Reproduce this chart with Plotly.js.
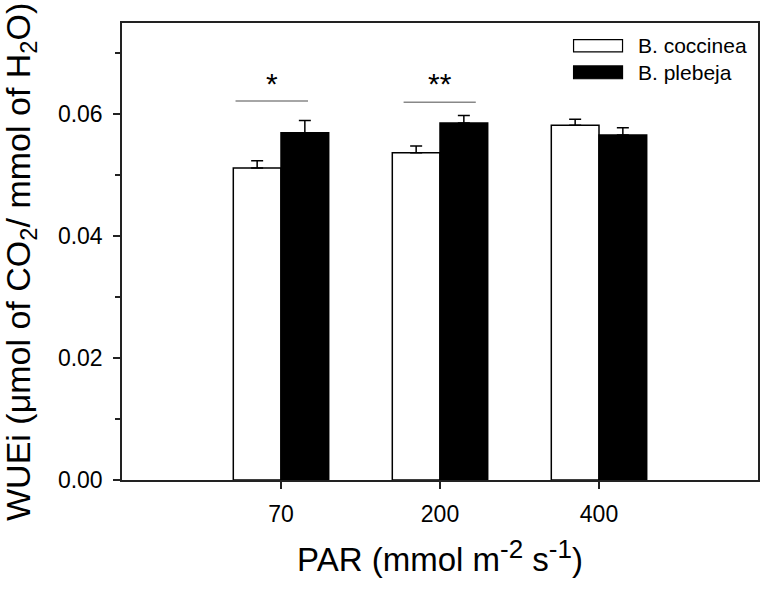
<!DOCTYPE html>
<html>
<head>
<meta charset="utf-8">
<script src="https://cdn.plot.ly/plotly-3.0.1.min.js"></script>
<style>html,body{margin:0;padding:0;background:#fff;}#chart{width:760px;height:591px;}</style>
</head>
<body>
<div id="chart"></div>
<script>
// Data
const categories = ['70', '200', '400'];
const coccinea = [0.0512, 0.0537, 0.0582];
const coccineaErr = [0.0012, 0.0011, 0.0010];
const plebeja = [0.0570, 0.0586, 0.0566];
const plebejaErr = [0.0020, 0.0012, 0.0012];
const seriesNames = ['B. coccinea', 'B. plebeja'];
const yTitle = 'WUEi (μmol of CO<sub>2</sub>/ mmol of H<sub>2</sub>O)';
const xTitle = 'PAR (mmol m<sup><span style="font-size:26px">-2</span></sup> s<sup><span style="font-size:26px">-1</span></sup>)';
// significance marks
const sigCategories = [0, 1];
const sigLabels = ['*', '**'];
const sigLineY = [0.0622, 0.0620];
const sigLineX0 = [-0.286, -0.229];
const sigLineX1 = [0.170, 0.225];
const sigTextY = 0.0650;

const FONT = 'Liberation Sans, Arial, sans-serif';
const AX = '#222';

const traces = [
  {
    type: 'bar', name: seriesNames[0], x: categories, y: coccinea,
    marker: {color: '#ffffff', line: {color: '#000', width: 1.5}},
    error_y: {type: 'data', array: coccineaErr, arrayminus: coccineaErr.map(() => 0), symmetric: false,
              color: '#000', thickness: 1.5, width: 6},
    showlegend: false
  },
  {
    type: 'bar', name: seriesNames[1], x: categories, y: plebeja,
    marker: {color: '#000000', line: {color: '#000', width: 1.5}},
    error_y: {type: 'data', array: plebejaErr, arrayminus: plebejaErr.map(() => 0), symmetric: false,
              color: '#000', thickness: 1.5, width: 6},
    showlegend: false
  }
];

const shapes = [];
const annotations = [];
sigCategories.forEach((c, i) => {
  shapes.push({type: 'line', xref: 'x', yref: 'y', x0: c + sigLineX0[i], x1: c + sigLineX1[i],
               y0: sigLineY[i], y1: sigLineY[i], line: {color: '#888', width: 1.5}});
  annotations.push({xref: 'x', yref: 'y', x: c + (sigLineX0[i] + sigLineX1[i]) / 2, y: sigTextY,
                    text: sigLabels[i], showarrow: false, font: {family: FONT, size: 30, color: '#000'},
                    xanchor: 'center', yanchor: 'middle'});
});
// legend drawn manually (wide rectangular keys)
const legendKeys = [
  {fill: '#ffffff', y0: 0.9366, y1: 0.9637, ty: 0.950},
  {fill: '#000000', y0: 0.878, y1: 0.906, ty: 0.892}
];
legendKeys.forEach((k, i) => {
  shapes.push({type: 'rect', xref: 'paper', yref: 'paper', x0: 0.710, x1: 0.787, y0: k.y0, y1: k.y1,
               fillcolor: k.fill, line: {color: '#000', width: 1.2}});
  annotations.push({xref: 'paper', yref: 'paper', x: 0.808, y: k.ty, text: seriesNames[i], showarrow: false,
                    xanchor: 'left', yanchor: 'middle', font: {family: FONT, size: 21, color: '#000'}});
});
// y-axis title as rotated annotation (positioned like the reference)
annotations.push({xref: 'paper', yref: 'paper', x: 0, xshift: -102, y: 0.477, textangle: -90,
                  text: yTitle, showarrow: false, xanchor: 'center', yanchor: 'middle',
                  font: {family: FONT, size: 34, color: '#000'}});

const layout = {
  width: 760, height: 591,
  margin: {l: 122, r: 2, t: 23, b: 111},
  paper_bgcolor: '#fff', plot_bgcolor: '#fff',
  font: {family: FONT, color: '#000'},
  barmode: 'group', bargap: 0.4, bargroupgap: 0,
  showlegend: false,
  xaxis: {
    type: 'category', range: [-1, 3], showgrid: false, zeroline: false,
    showline: true, linecolor: AX, linewidth: 1.5, mirror: true,
    ticks: 'outside', ticklen: 7, tickwidth: 1.5, tickcolor: AX,
    ticklabelstandoff: 6,
    tickfont: {family: FONT, size: 23, color: '#000'},
    title: {text: xTitle, font: {family: FONT, size: 33, color: '#000'}, standoff: 22}
  },
  yaxis: {
    range: [0, 0.075], dtick: 0.02, tick0: 0, tickformat: '.2f', showgrid: false, zeroline: false,
    showline: true, linecolor: AX, linewidth: 1.5, mirror: true,
    ticks: 'outside', ticklen: 7, tickwidth: 1.5, tickcolor: AX,
    ticklabelstandoff: 6,
    minor: {dtick: 0.01, ticks: 'outside', ticklen: 5, tickwidth: 1.5, tickcolor: AX, showgrid: false},
    tickfont: {family: FONT, size: 23, color: '#000'}
  },
  shapes: shapes,
  annotations: annotations
};

Plotly.newPlot('chart', traces, layout, {displayModeBar: false});
</script>
</body>
</html>
